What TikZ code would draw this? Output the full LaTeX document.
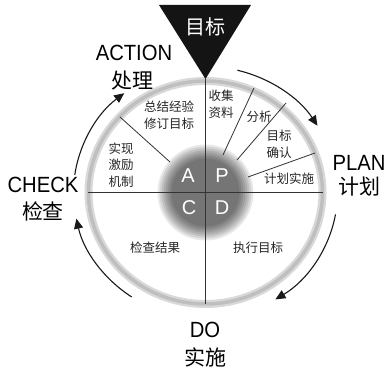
\documentclass[tikz,border=0pt]{standalone}
\usepackage{fontspec}
\setmainfont{Liberation Sans}
\newfontfamily\cjk{Noto Sans CJK SC}
\newfontfamily\latn[FakeStretch=0.92]{Liberation Sans}
\usetikzlibrary{arrows.meta}
\begin{document}
\begin{tikzpicture}[x=1pt,y=1pt,
  lbl/.style={font=\cjk\fontsize{12.5}{16.5}\selectfont, text=black!85, inner sep=0pt, align=center},
  big/.style={font=\cjk\fontsize{21}{24}\selectfont, inner sep=0pt},
  eng/.style={font=\latn\fontsize{22}{24}\selectfont, inner sep=0pt},
  letter/.style={font=\fontsize{20}{22}\selectfont, text=white, inner sep=0pt},
  div/.style={draw=black!80, line width=0.8pt},
  cyc/.style={draw=black!90, line width=1.1pt, -{Triangle[length=10pt,width=9pt]}},
  layer/.style={fill=black, fill opacity=0.09},
]
\useasboundingbox (0,0) rectangle (386,372);
\fill[white] (0,0) rectangle (386,372);
\coordinate (O) at (205.5,179.5);
% ring
\draw[gray!30, line width=8pt] (O) ellipse [x radius=117, y radius=111.5];
\draw[gray!50, line width=3.5pt] (O) ellipse [x radius=117, y radius=111.5];
% central blob with soft edge
\foreach \r in {48,46,44,42,40,38,36,34} {
  \fill[layer] (O) circle (\r);
}
% dividing lines
\coordinate (tip) at (205.5,293);
\coordinate (bot) at (205.5,68);
\coordinate (lft) at (88,179.5);
\coordinate (rgt) at (323,179.5);
\coordinate (ul1) at (120,255);
\coordinate (ul0) at (170,210);
\coordinate (p1a) at (254,284);
\coordinate (p1b) at (223,217);
\coordinate (p2a) at (286,269);
\coordinate (p2b) at (237,212);
\coordinate (p3a) at (315,219);
\coordinate (p3b) at (248,195);
\draw[div] (tip) -- (bot);
\draw[div] (lft) -- (rgt);
\draw[div] (ul0) -- (ul1);
\draw[div] (p1b) -- (p1a);
\draw[div] (p2b) -- (p2a);
\draw[div] (p3b) -- (p3a);
% target triangle
\coordinate (tl) at (159,367);
\coordinate (tr) at (251,367);
\fill[black!92] (tl) -- (tr) -- (tip) -- cycle;
\node[font=\cjk\fontsize{20}{22}\selectfont, text=white, inner sep=0pt] (goal) at (205,345) {目标};
% cycle arrows
\draw[cyc] ([shift={(76:132 and 126)}]O) arc[start angle=76, end angle=32, x radius=132, y radius=126];
\draw[cyc] ([shift={(-10:132 and 126)}]O) arc[start angle=-10, end angle=-58, x radius=132, y radius=126];
\draw[cyc] ([shift={(-124:132 and 126)}]O) arc[start angle=-124, end angle=-168, x radius=132, y radius=126];
\draw[cyc] ([shift={(172:132 and 126)}]O) arc[start angle=172, end angle=128, x radius=132, y radius=126];
% outer labels
\node[eng] (act) at (134,319) {ACTION};
\node[big] (actc) at (132,291) {处理};
\node[eng] (plan) at (359,209) {PLAN};
\node[big] (planc) at (359,185) {计划};
\node[eng] (chk) at (43,187) {CHECK};
\node[big] (chkc) at (43,161) {检查};
\node[eng] (do) at (205,42) {DO};
\node[big] (doc) at (205,15) {实施};
% inner labels
\node[lbl] (t1) at (221,268) {收集\\资料};
\node[lbl] (t2) at (259,255) {分析};
\node[lbl] (t3) at (279,227.5) {目标\\确认};
\node[lbl] (t4) at (289,193) {计划实施};
\node[lbl] (t5) at (169,257) {总结经验\\修订目标};
\node[lbl] (t6) at (121,207) {实现\\激励\\机制};
\node[lbl] (t7) at (155,124) {检查结果};
\node[lbl] (t8) at (258,124) {执行目标};
% PDCA letters
\node[letter] (la) at (188,196) {A};
\node[letter] (lp) at (222,196) {P};
\node[letter] (lc) at (189,164) {C};
\node[letter] (ld) at (222,164) {D};
\end{tikzpicture}
\end{document}
